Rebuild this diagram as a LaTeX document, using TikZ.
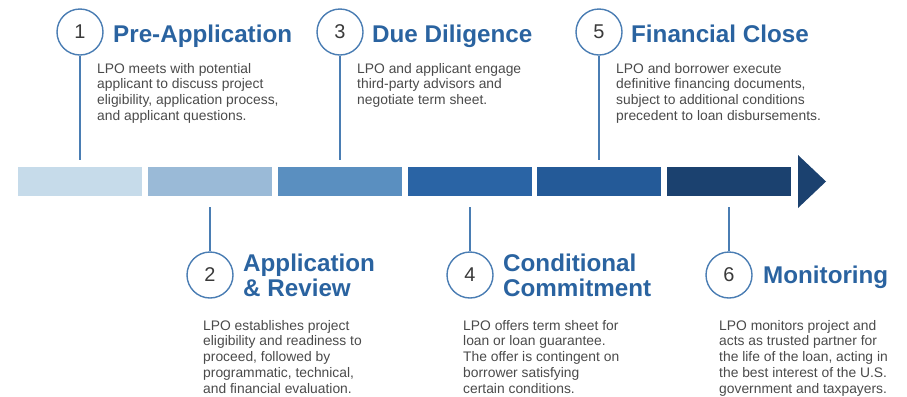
\documentclass[tikz,border=0pt]{standalone}
\usepackage{fontspec}
\setmainfont{Liberation Sans}
\usetikzlibrary{positioning}
\definecolor{barA}{HTML}{C6DBEA}
\definecolor{barB}{HTML}{9ABAD7}
\definecolor{barC}{HTML}{5A8FC0}
\definecolor{barD}{HTML}{2A64A5}
\definecolor{barE}{HTML}{245A98}
\definecolor{barF}{HTML}{1B416F}
\definecolor{titleblue}{HTML}{2A63A0}
\definecolor{lineblue}{HTML}{4A7DB3}
\definecolor{numgray}{HTML}{3A3A3A}
\definecolor{descgray}{HTML}{4A4A4A}
\begin{document}
\begin{tikzpicture}[x=1bp, y=-1bp,
  bar/.style={minimum width=124bp, minimum height=29bp, inner sep=0pt},
  stepnum/.style={circle, draw=lineblue, line width=1.4bp, fill=white, minimum size=46bp,
    inner sep=0pt, text=numgray, font=\fontsize{20}{20}\selectfont},
  heading/.style={inner sep=0pt, align=left, text=titleblue,
    font=\fontsize{24.3}{25}\selectfont\bfseries},
  blurb/.style={anchor=north west, inner sep=0pt, align=left, text=descgray,
    font=\fontsize{13.9}{15.8}\selectfont},
  link/.style={draw=lineblue, line width=1.4bp}]
\useasboundingbox (0,0) rectangle (907,396);
% timeline bars
\foreach \i/\x/\c in {1/80/barA, 2/210/barB, 3/340/barC, 4/470/barD, 5/599/barE, 6/729/barF}
  \node[bar, fill=\c] (b\i) at (\x,181.5) {};
\fill[barF] (798,155) -- (826,181.5) -- (798,208) -- cycle;
% steps above the bar
\node[stepnum] (n1) at (80,32) {1};
\node[stepnum] (n3) at (340,32) {3};
\node[stepnum] (n5) at (599,32) {5};
\draw[link] (n1) -- ([yshift=7bp]b1.north);
\draw[link] (n3) -- ([yshift=7bp]b3.north);
\draw[link] (n5) -- ([yshift=7bp]b5.north);
\node[heading, anchor=base west] (t1) at (113,42) {Pre-Application};
\node[heading, anchor=base west] (t3) at (372,42) {Due Diligence};
\node[heading, anchor=base west] (t5) at (631,42) {Financial Close};
\node[blurb] (d1) at (97,63) {LPO meets with potential\\applicant to discuss project\\eligibility, application process,\\and applicant questions.};
\node[blurb] (d3) at (357,63) {LPO and applicant engage\\third-party advisors and\\negotiate term sheet.};
\node[blurb] (d5) at (616,63) {LPO and borrower execute\\definitive financing documents,\\subject to additional conditions\\precedent to loan disbursements.};
% steps below the bar
\node[stepnum] (n2) at (210,275) {2};
\node[stepnum] (n4) at (470,275) {4};
\node[stepnum] (n6) at (729,275) {6};
\draw[link] ([yshift=-11bp]b2.south) -- (n2);
\draw[link] ([yshift=-11bp]b4.south) -- (n4);
\draw[link] ([yshift=-11bp]b6.south) -- (n6);
\node[heading, anchor=north west] (t2) at (243,253.5) {Application\\\& Review};
\node[heading, anchor=north west] (t4) at (503,253.5) {Conditional\\Commitment};
\node[heading, anchor=base west] (t6) at (763,283) {Monitoring};
\node[blurb] (d2) at (203,320) {LPO establishes project\\eligibility and readiness to\\proceed, followed by\\programmatic, technical,\\and financial evaluation.};
\node[blurb] (d4) at (463,320) {LPO offers term sheet for\\loan or loan guarantee.\\The offer is contingent on\\borrower satisfying\\certain conditions.};
\node[blurb] (d6) at (719,320) {LPO monitors project and\\acts as trusted partner for\\the life of the loan, acting in\\the best interest of the U.S.\\government and taxpayers.};
\end{tikzpicture}
\end{document}
